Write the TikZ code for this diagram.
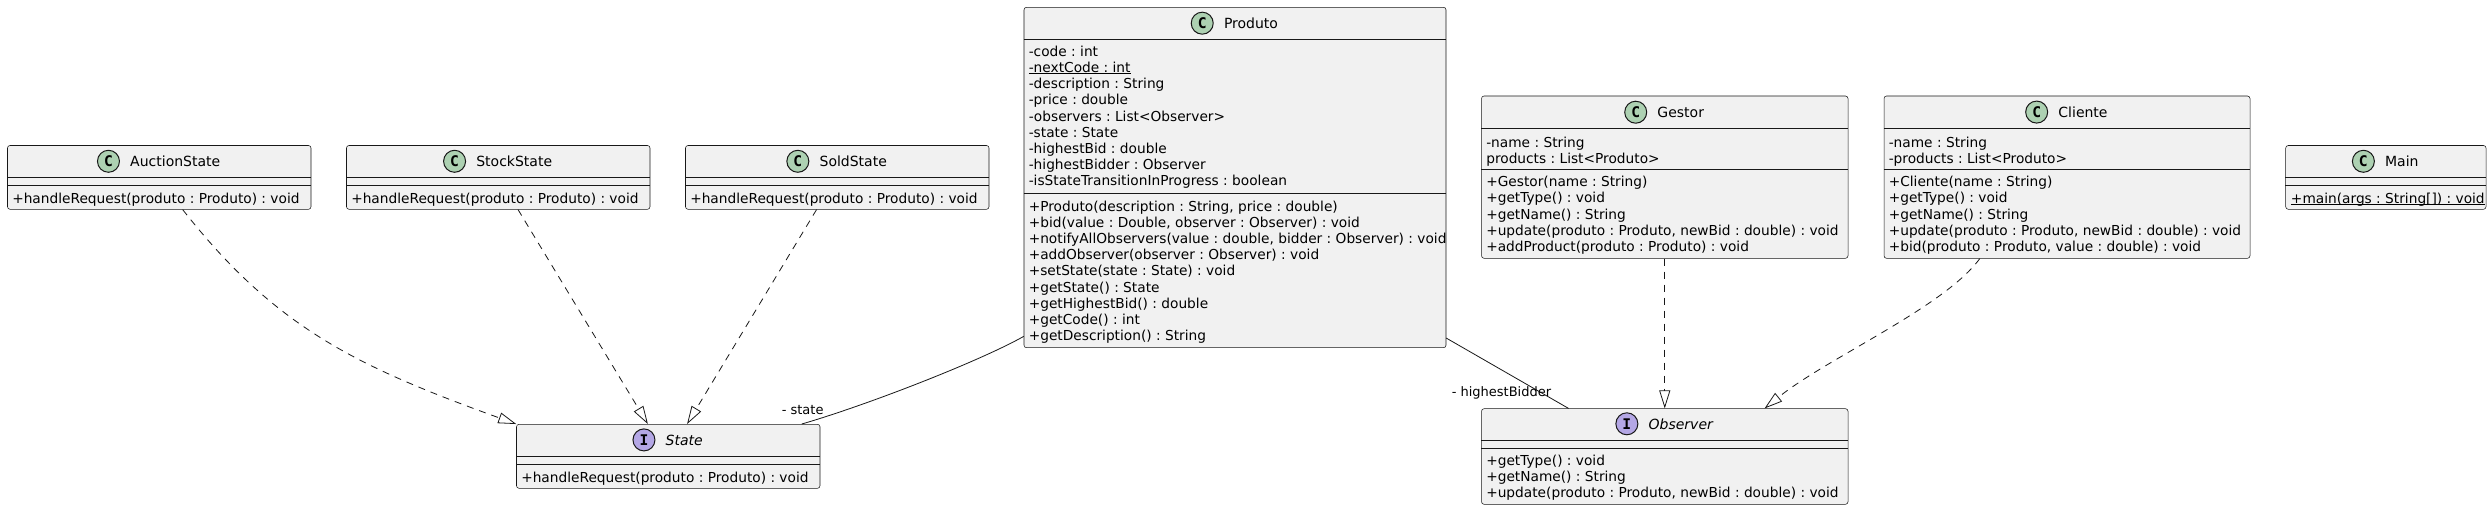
\documentclass[tikz,border=0pt]{standalone}
\usepackage{fontspec}
\setmainfont{DejaVu Sans}[ItalicFont={DejaVu Sans Oblique}, BoldFont={DejaVu Sans Bold}]
\newfontfamily\circfont{DejaVu Sans Mono}[BoldFont={DejaVu Sans Mono Bold}]
\usetikzlibrary{arrows.meta, positioning, fit, calc}
\frenchspacing

% static members are underlined close to the baseline
\newcommand{\stline}[1]{{\setbox0\hbox{#1}\rlap{\rule[-0.9pt]{\wd0}{0.5pt}}\box0}}

\begin{document}
\begin{tikzpicture}[x=0.75pt,y=0.75pt,yscale=-1,xscale=1,
    classbox/.style={draw={rgb, 255:red, 24; green, 24; blue, 24 }, fill={rgb, 255:red, 241; green, 241; blue, 241 }, line width=0.4pt, rounded corners=1.9pt, inner sep=0pt},
    sepline/.style={draw={rgb, 255:red, 24; green, 24; blue, 24 }, line width=0.4pt},
    member/.style={anchor=north west, inner sep=0pt, align=left, font=\fontsize{10.3pt}{12.15pt}\selectfont},
    clsname/.style={anchor=base, inner sep=0pt, font=\fontsize{10.5pt}{12.15pt}\selectfont},
    ccirc/.style={circle, draw={rgb, 255:red, 24; green, 24; blue, 24 }, line width=0.75pt, minimum size=16.5pt, inner sep=0pt, fill={rgb, 255:red, 173; green, 209; blue, 178 }, font=\circfont\bfseries\fontsize{11pt}{11pt}\selectfont},
    icirc/.style={ccirc, fill={rgb, 255:red, 180; green, 167; blue, 229 }},
    realize/.style={draw={rgb, 255:red, 24; green, 24; blue, 24 }, line width=0.6pt, dash pattern=on 5.25pt off 4.5pt, -{Triangle[open, length=13.5pt, width=8.25pt]}},
    assoc/.style={draw={rgb, 255:red, 24; green, 24; blue, 24 }, line width=0.6pt},
    rolelabel/.style={anchor=base west, inner sep=0pt, font=\fontsize{9.75pt}{11pt}\selectfont}
]
    \path [use as bounding box, fill=white] (0,0) rectangle (2492,511);

    %Shape: Class Box AuctionState
    \node [classbox, fit={(7.5,145.5) (311,209.3)}] (auction) {};
    \draw [sepline] (auction.west |- 0,177.7) -- (auction.east |- 0,177.7) ;
    \draw [sepline] (auction.west |- 0,185.3) -- (auction.east |- 0,185.3) ;
    % Text Node
    \node [clsname] (auctionName) at (175.25,166.5) {AuctionState};
    \node [ccirc, left=7.5pt of auctionName] (auctionIcon) {C};
    \node [member] (auctionOps) at (12,192.9) {+handleRequest(produto : Produto) : void};

    %Shape: Class Box StockState
    \node [classbox, fit={(346.5,145.5) (650,209.3)}] (stock) {};
    \draw [sepline] (stock.west |- 0,177.7) -- (stock.east |- 0,177.7) ;
    \draw [sepline] (stock.west |- 0,185.3) -- (stock.east |- 0,185.3) ;
    % Text Node
    \node [clsname] (stockName) at (514.25,166.5) {StockState};
    \node [ccirc, left=7.5pt of stockName] (stockIcon) {C};
    \node [member] (stockOps) at (351,192.9) {+handleRequest(produto : Produto) : void};

    %Shape: Class Box SoldState
    \node [classbox, fit={(685.5,145.5) (989,209.3)}] (sold) {};
    \draw [sepline] (sold.west |- 0,177.7) -- (sold.east |- 0,177.7) ;
    \draw [sepline] (sold.west |- 0,185.3) -- (sold.east |- 0,185.3) ;
    % Text Node
    \node [clsname] (soldName) at (853.25,166.5) {SoldState};
    \node [ccirc, left=7.5pt of soldName] (soldIcon) {C};
    \node [member] (soldOps) at (690,192.9) {+handleRequest(produto : Produto) : void};

    %Shape: Class Box Produto
    \node [classbox, fit={(1024,7.3) (1446,347.7)}] (produto) {};
    \draw [sepline] (produto.west |- 0,39.3) -- (produto.east |- 0,39.3) ;
    \draw [sepline] (produto.west |- 0,193.3) -- (produto.east |- 0,193.3) ;
    % Text Node
    \node [clsname] (produtoName) at (1251,28.4) {Produto};
    \node [ccirc, left=7.5pt of produtoName] (produtoIcon) {C};
    \node [member] (produtoAttrs) at (1028.5,45.6) {-code : int\\ \stline{-nextCode : int}\\ -description : String\\ -price : double\\ -observers : List<Observer>\\ -state : State\\ -highestBid : double\\ -highestBidder : Observer\\ -isStateTransitionInProgress : boolean};
    \node [member] (produtoOps) at (1028.5,200.3) {+Produto(description : String, price : double)\\ +bid(value : Double, observer : Observer) : void\\ +notifyAllObservers(value : double, bidder : Observer) : void\\ +addObserver(observer : Observer) : void\\ +setState(state : State) : void\\ +getState() : State\\ +getHighestBid() : double\\ +getCode() : int\\ +getDescription() : String};

    %Shape: Class Box Gestor
    \node [classbox, fit={(1481.5,96) (1848,258.3)}] (gestor) {};
    \draw [sepline] (gestor.west |- 0,128.3) -- (gestor.east |- 0,128.3) ;
    \draw [sepline] (gestor.west |- 0,169.3) -- (gestor.east |- 0,169.3) ;
    % Text Node
    \node [clsname] (gestorName) at (1680.75,117.3) {Gestor};
    \node [ccirc, left=7.5pt of gestorName] (gestorIcon) {C};
    \node [member] (gestorAttrs) at (1486,136.3) {-name : String\\ products : List<Produto>};
    \node [member] (gestorOps) at (1486,175.9) {+Gestor(name : String)\\ +getType() : void\\ +getName() : String\\ +update(produto : Produto, newBid : double) : void\\ +addProduct(produto : Produto) : void};

    %Shape: Class Box Cliente
    \node [classbox, fit={(1884,96) (2250,258.3)}] (cliente) {};
    \draw [sepline] (cliente.west |- 0,128.3) -- (cliente.east |- 0,128.3) ;
    \draw [sepline] (cliente.west |- 0,169.3) -- (cliente.east |- 0,169.3) ;
    % Text Node
    \node [clsname] (clienteName) at (2083,117.3) {Cliente};
    \node [ccirc, left=7.5pt of clienteName] (clienteIcon) {C};
    \node [member] (clienteAttrs) at (1888.5,136.3) {-name : String\\ -products : List<Produto>};
    \node [member] (clienteOps) at (1888.5,175.9) {+Cliente(name : String)\\ +getType() : void\\ +getName() : String\\ +update(produto : Produto, newBid : double) : void\\ +bid(produto : Produto, value : double) : void};

    %Shape: Class Box Main
    \node [classbox, fit={(2285.7,145.5) (2486,209.3)}] (main) {};
    \draw [sepline] (main.west |- 0,177.7) -- (main.east |- 0,177.7) ;
    \draw [sepline] (main.west |- 0,185.3) -- (main.east |- 0,185.3) ;
    % Text Node
    \node [clsname] (mainName) at (2401.85,166.5) {Main};
    \node [ccirc, left=7.5pt of mainName] (mainIcon) {C};
    \node [member] (mainOps) at (2290.7,192.9) {\stline{+main(args : String[]) : void}};

    %Shape: Interface Box State
    \node [classbox, fit={(516.5,424.3) (820,488.3)}] (state) {};
    \draw [sepline] (state.west |- 0,456.7) -- (state.east |- 0,456.7) ;
    \draw [sepline] (state.west |- 0,464.3) -- (state.east |- 0,464.3) ;
    % Text Node
    \node [clsname] (stateName) at (684.25,445) {\itshape State};
    \node [icirc, left=7.5pt of stateName] (stateIcon) {I};
    \node [member] (stateOps) at (521,471.9) {+handleRequest(produto : Produto) : void};

    %Shape: Interface Box Observer
    \node [classbox, fit={(1481.5,408.7) (1848,504.3)}] (observer) {};
    \draw [sepline] (observer.west |- 0,440) -- (observer.east |- 0,440) ;
    \draw [sepline] (observer.west |- 0,448) -- (observer.east |- 0,448) ;
    % Text Node
    \node [clsname] (observerName) at (1680.75,429) {\itshape Observer};
    \node [icirc, left=7.5pt of observerName] (observerIcon) {I};
    \node [member] (observerOps) at (1486,454.6) {+getType() : void\\ +getName() : String\\ +update(produto : Produto, newBid : double) : void};

    %Curve Lines
    \draw [realize] ($(auction.south west)!0.577!(auction.south east)$) .. controls +(93,118.5) and +(-159.8,-57.8) .. (state.north west) ;
    %Straight Lines
    \draw [realize] ($(stock.south west)!0.565!(stock.south east)$) -- ($(state.north west)!0.433!(state.north east)$) ;
    \draw [realize] ($(sold.south west)!0.432!(sold.south east)$) -- ($(state.north west)!0.562!(state.north east)$) ;
    %Curve Lines
    \draw [assoc] ($(produto.north west)!0.966!(produto.south west)$) .. controls +(-43.5,24.5) and +(67.2,-19.6) .. ($(state.north west)!0.939!(state.north east)$) ;
    %Straight Lines
    \draw [assoc] ($(produto.north east)!0.971!(produto.south east)$) -- ($(observer.north west)!0.238!(observer.north east)$) ;
    \draw [realize] (gestor.south) -- (observer.north) ;
    %Curve Lines
    \draw [realize] ($(cliente.south west)!0.262!(cliente.south east)$) .. controls +(-35.4,48.6) and +(62.4,-50.4) .. ($(observer.north west)!0.772!(observer.north east)$) ;

    % Text Node
    \node [rolelabel] (stateRole) at (781.5,414) {- state};
    % Text Node
    \node [rolelabel] (bidderRole) at (1451.5,396.5) {- highestBidder};

\end{tikzpicture}
\end{document}
